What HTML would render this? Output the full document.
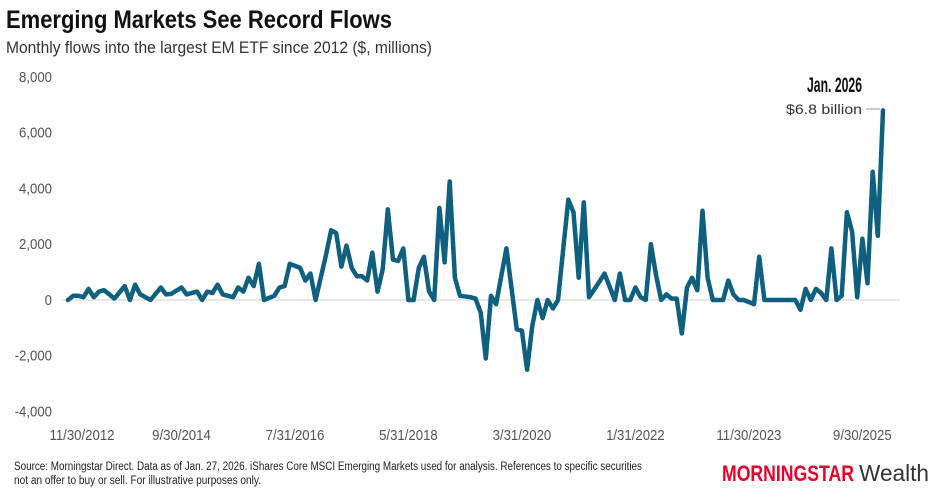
<!DOCTYPE html>
<html><head><meta charset="utf-8"><style>
body{margin:0;background:#fff;width:940px;height:497px;overflow:hidden;font-family:"Liberation Sans Narrow","Liberation Sans",sans-serif;}
svg{position:absolute;left:0;top:0}
</style></head><body>
<svg id="chart" width="940" height="497">
<text x="6" y="28" font-size="25" font-weight="bold" fill="#111" textLength="386" lengthAdjust="spacingAndGlyphs">Emerging Markets See Record Flows</text>
<text x="6" y="53" font-size="17" fill="#333" textLength="426" lengthAdjust="spacingAndGlyphs">Monthly flows into the largest EM ETF since 2012 ($, millions)</text>
<g id="yaxis"></g>
<g id="xaxis"></g>
<g id="series"></g>
<text x="862" y="92" font-size="21" font-weight="bold" text-anchor="end" fill="#111" textLength="55" lengthAdjust="spacingAndGlyphs">Jan. 2026</text>
<text x="862" y="114" font-size="13.5" text-anchor="end" fill="#333" textLength="76" lengthAdjust="spacingAndGlyphs">$6.8 billion</text>
<line x1="866" y1="109" x2="880" y2="109" stroke="#999" stroke-width="1"/>
<text x="14" y="470" font-size="11.5" fill="#222" textLength="628" lengthAdjust="spacingAndGlyphs">Source: Morningstar Direct. Data as of Jan. 27, 2026. iShares Core MSCI Emerging Markets used for analysis. References to specific securities</text>
<text x="14" y="484" font-size="11.5" fill="#222" textLength="247" lengthAdjust="spacingAndGlyphs">not an offer to buy or sell. For illustrative purposes only.</text>
<text x="722" y="481" font-size="22" fill="#e4002b" font-weight="bold" textLength="132" lengthAdjust="spacingAndGlyphs">MORNINGSTAR</text>
<text x="859" y="481" font-size="23" fill="#333" textLength="70" lengthAdjust="spacingAndGlyphs">Wealth</text>
</svg>
<script>
const months=[0,1,2,3,4,5,6,7,8,9,11,12,13,14,16,18,19,20,22,23,25,26,27,28,29,30,32,33,34,35,36,37,38,40,41,42,43,45,46,47,48,50,51,52,53,54,55,56,57,58,59,60,61,62,63,64,65,66,67,68,69,70,71,72,73,74,75,76,78,79,80,81,82,83,85,87,88,89,90,91,92,93,94,95,97,98,99,100,101,103,104,106,107,108,109,110,111,112,113,114,115,116,117,118,119,120,121,122,123,124,125,127,128,129,130,131,133,134,135,141,142,143,144,145,146,147,148,149,150,151,152,153,154,155,156,157,158];
const flows=[0,150,150,100,400,100,300,350,200,50,500,0,550,200,0,450,200,220,450,200,300,0,300,250,550,200,100,450,300,800,500,1300,0,150,450,500,1300,1150,700,950,0,1600,2500,2400,1200,1950,1150,850,850,700,1700,300,1100,3250,1450,1400,1850,0,0,1150,1550,300,0,3300,1350,4250,800,150,100,50,-450,-2100,150,-150,1850,-1050,-1100,-2500,-950,0,-650,0,-300,0,3600,3150,800,3500,100,650,950,0,950,0,0,450,100,0,2000,900,0,200,50,50,-1200,450,800,350,3200,800,0,0,700,200,0,0,-150,1550,0,0,-350,400,0,400,250,0,1850,0,150,3150,2450,100,2200,600,4600,2300,6800];
const yTicks=[8000,6000,4000,2000,0,-2000,-4000];
const xTickIdx=[0,22,44,66,88,110,132,154];
const xTickLabels=["11/30/2012","9/30/2014","7/31/2016","5/31/2018","3/31/2020","1/31/2022","11/30/2023","9/30/2025"];
const NS="http://www.w3.org/2000/svg";
const X=i=>68+i*(883-68)/158;
const Y=v=>300-v*(223/8000);
const ya=document.getElementById('yaxis');
yTicks.forEach(t=>{
  const tx=document.createElementNS(NS,'text');
  tx.setAttribute('x',52);tx.setAttribute('y',Y(t)+5);tx.setAttribute('text-anchor','end');
  tx.setAttribute('font-size','15');tx.setAttribute('fill','#555');
  tx.setAttribute('transform','translate(52,0) scale(0.88,1) translate(-52,0)');
  tx.textContent=t.toLocaleString('en-US');
  
  
  ya.appendChild(tx);
  if(t===0){
    const l=document.createElementNS(NS,'line');
    l.setAttribute('x1',62);l.setAttribute('x2',900);l.setAttribute('y1',Y(0));l.setAttribute('y2',Y(0));
    l.setAttribute('stroke','#e0e0e0');l.setAttribute('stroke-width','1.5');
    
    
    ya.appendChild(l);
  }
});
const xa=document.getElementById('xaxis');
xTickIdx.forEach((i,k)=>{
  const tx=document.createElementNS(NS,'text');
  const cx=k===0?X(i)+14:X(i);
  tx.setAttribute('x',cx);tx.setAttribute('y',440);tx.setAttribute('text-anchor','middle');
  tx.setAttribute('font-size','15');tx.setAttribute('fill','#555');
  tx.setAttribute('transform','translate('+cx+',0) scale(0.88,1) translate('+(-cx)+',0)');
  tx.textContent=xTickLabels[k];
  
  
  xa.appendChild(tx);
});
const p=document.createElementNS(NS,'polyline');
p.setAttribute('points',months.map((m,k)=>X(m).toFixed(1)+','+Y(flows[k]).toFixed(1)).join(' '));
p.setAttribute('fill','none');p.setAttribute('stroke','#0f5f7f');p.setAttribute('stroke-width','4.5');
p.setAttribute('stroke-linejoin','round');p.setAttribute('stroke-linecap','round');


document.getElementById('series').appendChild(p);
</script>
</body></html>
